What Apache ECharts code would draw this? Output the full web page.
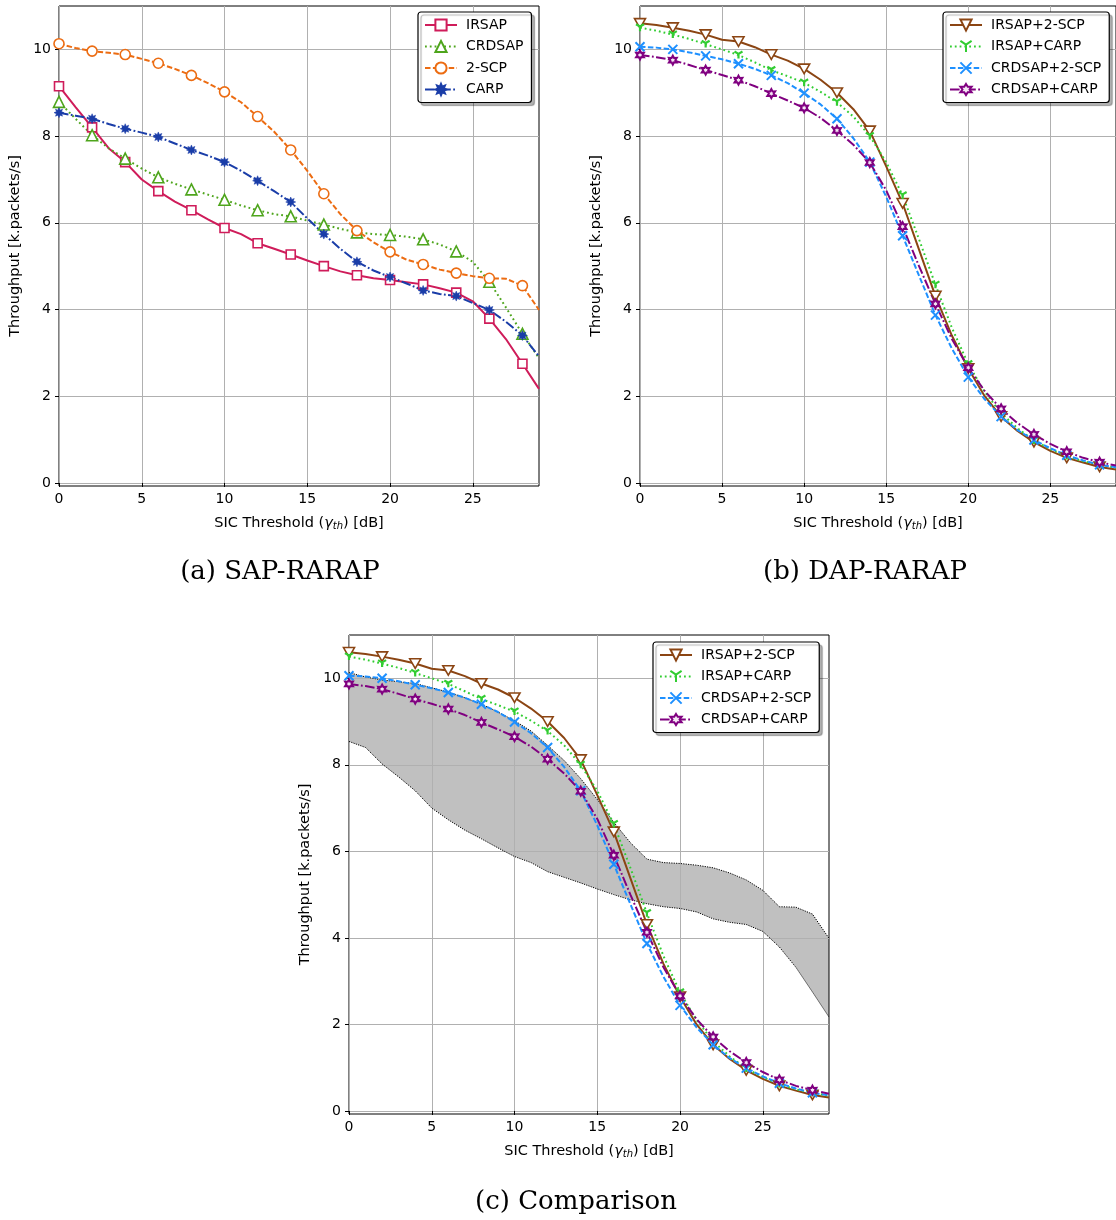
<!DOCTYPE html>
<html>
<head>
<meta charset="utf-8">
<script src="https://cdn.jsdelivr.net/npm/echarts@6/dist/echarts.min.js"></script>
<style>
html,body{margin:0;padding:0;background:#fff;}
#chart{width:1116px;height:1220px;}
</style>
</head>
<body>
<div id="chart"></div>
<script>
// x values: SIC threshold in dB
const sicThreshold = [0,1,2,3,4,5,6,7,8,9,10,11,12,13,14,15,16,17,18,19,20,21,22,23,24,25,26,27,28,29];
const xTicks = [0,5,10,15,20,25];
const yTicks = [0,2,4,6,8,10];

// (a) SAP-RARAP
const irsap  = [9.15,8.67,8.20,7.72,7.40,7.00,6.73,6.49,6.29,6.08,5.88,5.74,5.53,5.40,5.27,5.13,5.00,4.88,4.79,4.72,4.68,4.63,4.58,4.49,4.39,4.19,3.79,3.32,2.75,2.17];
const crdsap = [8.79,8.40,8.02,7.72,7.48,7.25,7.05,6.90,6.77,6.65,6.53,6.40,6.29,6.20,6.15,6.05,5.96,5.86,5.78,5.74,5.72,5.68,5.62,5.50,5.34,5.10,4.64,4.05,3.44,2.88];
const twoScp = [10.13,10.03,9.96,9.92,9.88,9.78,9.68,9.55,9.40,9.22,9.02,8.78,8.45,8.10,7.68,7.20,6.67,6.20,5.82,5.55,5.33,5.15,5.04,4.92,4.84,4.77,4.72,4.71,4.55,3.99];
const carp   = [8.54,8.47,8.40,8.28,8.17,8.08,7.98,7.83,7.68,7.55,7.40,7.20,6.97,6.73,6.48,6.10,5.74,5.40,5.10,4.90,4.75,4.60,4.44,4.36,4.31,4.15,3.99,3.72,3.40,2.92];

// (b) DAP-RARAP
const irsap2scp  = [10.60,10.56,10.50,10.43,10.34,10.22,10.18,10.05,9.88,9.74,9.55,9.30,9.00,8.62,8.12,7.30,6.45,5.38,4.31,3.40,2.64,2.00,1.53,1.20,0.94,0.74,0.58,0.47,0.37,0.31];
const irsapCarp  = [10.50,10.43,10.34,10.24,10.12,10.00,9.87,9.70,9.52,9.38,9.23,9.02,8.78,8.45,8.00,7.40,6.63,5.62,4.57,3.58,2.74,2.10,1.61,1.26,0.98,0.78,0.62,0.50,0.42,0.35];
const crdsap2scp = [10.06,10.04,10.00,9.93,9.85,9.77,9.67,9.55,9.40,9.22,8.99,8.73,8.40,7.95,7.40,6.60,5.70,4.78,3.87,3.10,2.44,1.93,1.53,1.22,0.99,0.80,0.64,0.52,0.42,0.36];
const crdsapCarp = [9.87,9.82,9.75,9.64,9.52,9.41,9.29,9.15,8.98,8.82,8.65,8.42,8.13,7.80,7.39,6.75,5.91,5.00,4.13,3.32,2.66,2.12,1.71,1.38,1.12,0.90,0.72,0.58,0.48,0.40];

// envelope of (a) used as the band in (c)
const sapSeries = [irsap, crdsap, twoScp, carp];
const bandLow  = sicThreshold.map((_, i) => Math.min(...sapSeries.map(s => s[i])));
const bandHigh = sicThreshold.map((_, i) => Math.max(...sapSeries.map(s => s[i])));

function starPath(n, rOut, rIn) {
  let d = '';
  for (let k = 0; k < 2 * n; k++) {
    const r = k % 2 === 0 ? rOut : rIn;
    const a = Math.PI * k / n - Math.PI / 2;
    const px = (10 + r * Math.cos(a)).toFixed(2), py = (10 + r * Math.sin(a)).toFixed(2);
    d += (k === 0 ? 'M' : 'L') + px + ',' + py + ' ';
  }
  return 'path://' + d + 'Z';
}
const SYM = {
  square: 'rect',
  triUp: 'triangle',
  circle: 'circle',
  star8: starPath(8, 10, 5.5),
  triDown: 'path://M0,0 L10,0 L5,8.66 Z',
  tri1: 'path://M5,5 L5,10 M5,5 L0.67,2.5 M5,5 L9.33,2.5',
  xmark: 'path://M0,0 L10,10 M10,0 L0,10',
  star6: starPath(6, 10, 5.5)
};

function pts(arr) {
  return sicThreshold.map((x, i) => i % 2 === 0 ? [x, arr[i]] : { value: [x, arr[i]], symbol: 'none' });
}

const DASH = [5.5, 2.4], DOT = [1.8, 3], DASHDOT = [9.6, 2.4, 1.8, 2.4];

function lineSeries(name, arr, gi, color, dash, symbol, size, fill, bw) {
  return {
    type: 'line', name: name, xAxisIndex: gi, yAxisIndex: gi,
    data: pts(arr),
    symbol: symbol, symbolSize: size, showSymbol: true, showAllSymbol: true,
    symbolKeepAspect: true,
    lineStyle: { color: color, width: 2, type: dash },
    itemStyle: { color: fill, borderColor: color, borderWidth: bw },
    emphasis: { disabled: true },
    z: 3
  };
}

function setA(gi) {
  return [
    lineSeries('IRSAP', irsap, gi, '#cf1c5a', 'solid', SYM.square, 9, '#fff', 1.6),
    lineSeries('CRDSAP', crdsap, gi, '#4ea51c', DOT, SYM.triUp, 11, '#fff', 1.6),
    lineSeries('2-SCP', twoScp, gi, '#ec6c12', DASH, SYM.circle, 10, '#fff', 1.6),
    lineSeries('CARP', carp, gi, '#1a3da8', DASHDOT, SYM.star8, 10, '#1a3da8', 0.5)
  ];
}
function setB(gi) {
  return [
    lineSeries('IRSAP+2-SCP', irsap2scp, gi, '#8b4513', 'solid', SYM.triDown, 11, '#fff', 1.6),
    lineSeries('IRSAP+CARP', irsapCarp, gi, '#32cd32', DOT, SYM.tri1, 8, '#32cd32', 2.2),
    lineSeries('CRDSAP+2-SCP', crdsap2scp, gi, '#1e90ff', DASH, SYM.xmark, 9, '#1e90ff', 2),
    lineSeries('CRDSAP+CARP', crdsapCarp, gi, '#800080', DASHDOT, SYM.star6, 9, '#f4e6f4', 2)
  ];
}

const FONT = 'DejaVu Sans';
function xAxis(gi) {
  return {
    type: 'value', gridIndex: gi, min: 0, max: 29,
    axisLine: { show: false },
    axisTick: { show: true, customValues: xTicks, length: 4, lineStyle: { color: '#000', width: 1 } },
    axisLabel: { customValues: xTicks, fontSize: 14, fontFamily: FONT, color: '#000', margin: 6 },
    splitLine: { show: true, lineStyle: { color: '#b0b0b0', width: 1 } },
    name: '{r|SIC Threshold (}{g|γ}{s|th}{r|) [dB]}',
    nameLocation: 'middle', nameGap: 29,
    nameTextStyle: {
      fontSize: 14, fontFamily: FONT, color: '#000',
      rich: {
        r: { fontSize: 14.5, fontFamily: FONT, color: '#000' },
        g: { fontSize: 14.5, fontFamily: FONT, fontStyle: 'italic', color: '#000' },
        s: { fontSize: 10, fontFamily: FONT, fontStyle: 'italic', color: '#000', padding: [6, 0, 0, 0] }
      }
    }
  };
}
function yAxis(gi) {
  return {
    type: 'value', gridIndex: gi, min: -0.07, max: 11,
    axisLine: { show: false },
    axisTick: { show: true, customValues: yTicks, length: 4, lineStyle: { color: '#000', width: 1 } },
    axisLabel: { customValues: yTicks, fontSize: 14, fontFamily: FONT, color: '#000', margin: 8 },
    splitLine: { show: true, lineStyle: { color: '#b0b0b0', width: 1 } },
    name: 'Throughput [k.packets/s]',
    nameLocation: 'middle', nameGap: 36,
    nameTextStyle: { fontSize: 14.5, fontFamily: FONT, color: '#000' }
  };
}
function legend(left, top, names) {
  return {
    data: names, orient: 'vertical', left: left, top: top,
    padding: [6, 8, 6, 6], itemGap: 7.5, itemWidth: 32, itemHeight: 14,
    selectedMode: false,
    backgroundColor: '#fff', borderColor: '#000', borderWidth: 1.2, borderRadius: 3,
    shadowColor: 'rgba(0,0,0,0.3)', shadowBlur: 1, shadowOffsetX: 3, shadowOffsetY: 3,
    textStyle: { fontSize: 14, fontFamily: FONT, color: '#000', padding: [0, 0, 0, 4] }
  };
}
const namesA = ['IRSAP', 'CRDSAP', '2-SCP', 'CARP'];
const namesB = ['IRSAP+2-SCP', 'IRSAP+CARP', 'CRDSAP+2-SCP', 'CRDSAP+CARP'];

const gridBox = { show: true, borderColor: '#000', borderWidth: 1, backgroundColor: 'transparent' };

const option = {
  animation: false,
  grid: [
    Object.assign({ left: 59, top: 6, width: 480, height: 480 }, gridBox),
    Object.assign({ left: 640, top: 6, width: 479, height: 480 }, gridBox),
    Object.assign({ left: 349, top: 635, width: 480, height: 479 }, gridBox)
  ],
  xAxis: [xAxis(0), xAxis(1), xAxis(2)],
  yAxis: [yAxis(0), yAxis(1), yAxis(2)],
  legend: [legend(418, 12, namesA), legend(943, 12, namesB), legend(653, 642, namesB)],
  series: [].concat(
    setA(0),
    setB(1),
    [
      {
        type: 'custom', name: 'band', xAxisIndex: 2, yAxisIndex: 2, z: -1,
        data: [[0, 0]], silent: true,
        renderItem: function (params, api) {
          if (params.dataIndex !== 0) return null;
          const p = [];
          for (let i = 0; i < sicThreshold.length; i++) p.push(api.coord([sicThreshold[i], bandHigh[i]]));
          for (let i = sicThreshold.length - 1; i >= 0; i--) p.push(api.coord([sicThreshold[i], bandLow[i]]));
          return { type: 'polygon', shape: { points: p }, style: { fill: '#c0c0c0' } };
        }
      },
      {
        type: 'line', name: 'bandLow', xAxisIndex: 2, yAxisIndex: 2, symbol: 'none', z: 1,
        data: sicThreshold.map((x, i) => [x, bandLow[i]]),
        lineStyle: { color: '#000', width: 1, type: [1.2, 1.2] }, emphasis: { disabled: true }, silent: true
      },
      {
        type: 'line', name: 'bandHigh', xAxisIndex: 2, yAxisIndex: 2, symbol: 'none', z: 1,
        data: sicThreshold.map((x, i) => [x, bandHigh[i]]),
        lineStyle: { color: '#000', width: 1, type: [1.2, 1.2] }, emphasis: { disabled: true }, silent: true
      }
    ],
    setB(2)
  ),
  graphic: [
    { type: 'text', style: { text: '(a) SAP-RARAP', x: 280, y: 572, align: 'center', verticalAlign: 'middle', fontSize: 26, fontFamily: 'DejaVu Serif', fill: '#000' } },
    { type: 'text', style: { text: '(b) DAP-RARAP', x: 865, y: 572, align: 'center', verticalAlign: 'middle', fontSize: 26, fontFamily: 'DejaVu Serif', fill: '#000' } },
    { type: 'text', style: { text: '(c) Comparison', x: 576, y: 1202, align: 'center', verticalAlign: 'middle', fontSize: 26, fontFamily: 'DejaVu Serif', fill: '#000' } }
  ]
};

const chart = echarts.init(document.getElementById('chart'), null, { renderer: 'canvas' });
chart.setOption(option);
</script>
</body>
</html>
